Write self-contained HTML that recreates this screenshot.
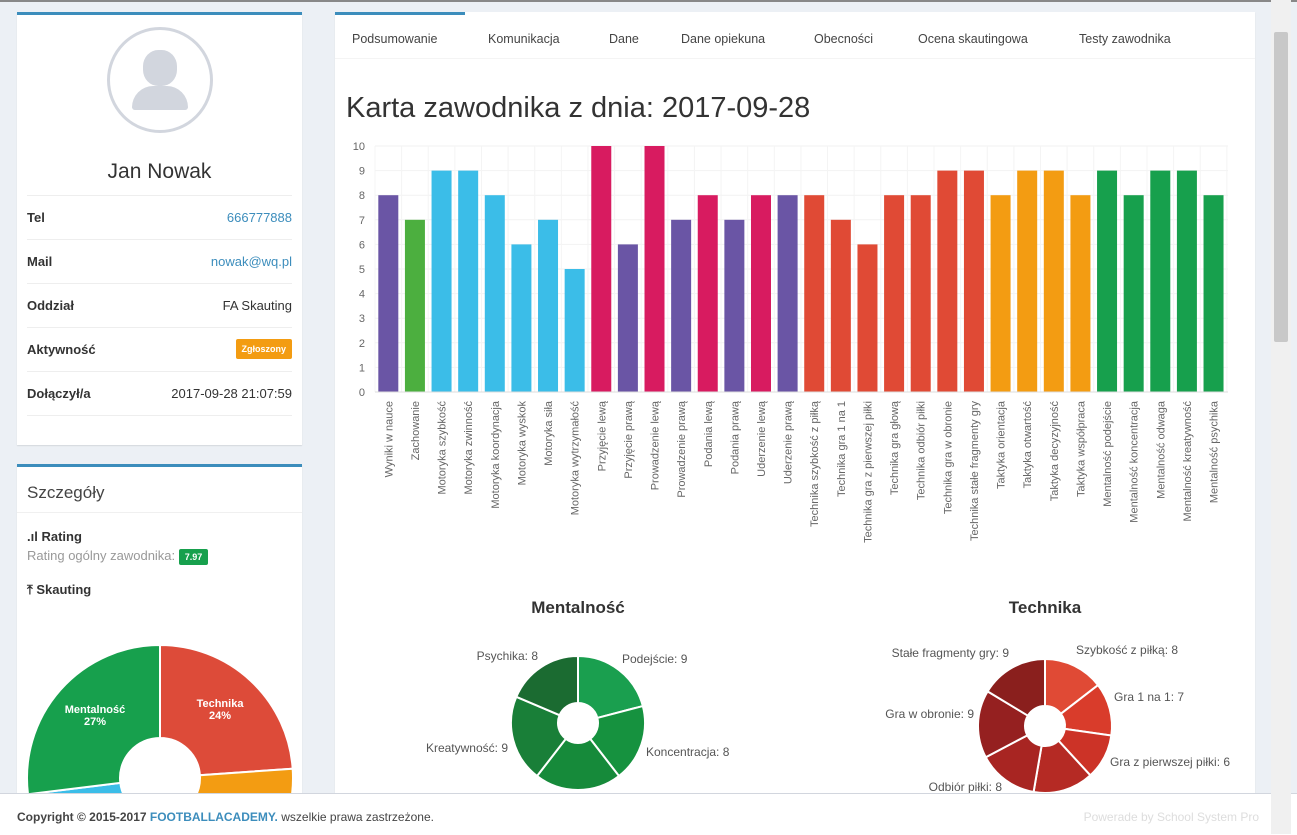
<!DOCTYPE html><html><head><meta charset="utf-8"><style>
body{margin:0;width:1297px;height:834px;overflow:hidden;background:#ecf0f5;font-family:"Liberation Sans",sans-serif;position:relative}
.box{position:absolute;background:#fff;border-top:3px solid #3c8dbc;box-shadow:0 1px 1px rgba(0,0,0,.1)}
.row{position:absolute;left:10px;right:10px;height:43px;border-top:1px solid #eee;font-size:13px;line-height:43px;color:#333}
.row b{float:left}.row span{float:right}
.a{position:absolute;font-size:12.5px;color:#444}
</style></head><body>
<div style="position:absolute;left:0;top:0;width:1297px;height:2px;background:#888"></div>
<div class="box" style="left:17px;top:12px;width:285px;height:430px">
 <div style="position:absolute;left:90px;top:12px;width:100px;height:100px;border:3px solid #d2d6de;border-radius:50%;overflow:hidden">
  <div style="position:absolute;left:33px;top:20px;width:34px;height:36px;border-radius:45%;background:#d2d6de"></div>
  <div style="position:absolute;left:22px;top:56px;width:56px;height:24px;border-radius:30px 30px 4px 4px;background:#d2d6de"></div></div>
 <div style="position:absolute;left:0;width:285px;top:145px;text-align:center;font-size:21px;color:#333">Jan Nowak</div>
 <div class="row" style="top:180px"><b>Tel</b><span style="color:#3c8dbc">666777888</span></div>
 <div class="row" style="top:224px"><b>Mail</b><span style="color:#3c8dbc">nowak@wq.pl</span></div>
 <div class="row" style="top:268px"><b>Oddział</b><span>FA Skauting</span></div>
 <div class="row" style="top:312px"><b>Aktywność</b><span style="display:block;margin-top:11px;background:#f39c12;color:#fff;font-size:9px;font-weight:bold;line-height:20px;padding:0 6px;border-radius:2px">Zgłoszony</span></div>
 <div class="row" style="top:356px;border-bottom:1px solid #eee"><b>Dołączył/a</b><span>2017-09-28 21:07:59</span></div>
</div>
<div class="box" style="left:17px;top:464px;width:285px;height:340px;overflow:hidden">
 <div style="position:absolute;left:10px;top:16px;font-size:17px;color:#444">Szczegóły</div>
 <div style="position:absolute;left:0;right:0;top:45px;border-top:1px solid #f0f0f0"></div>
 <div style="position:absolute;left:10px;top:62px;font-size:13px;font-weight:bold;color:#333">.ıl Rating</div>
 <div style="position:absolute;left:10px;top:81px;font-size:13px;color:#999">Rating ogólny zawodnika: <span style="background:#17a04d;color:#fff;font-size:9px;font-weight:bold;padding:3px 6px;border-radius:2px">7.97</span></div>
 <div style="position:absolute;left:10px;top:115px;font-size:13px;font-weight:bold;color:#333">⤒ Skauting</div>
 <svg id="pie" style="position:absolute;left:0;top:0" width="285" height="340"></svg>
</div>
<div class="box" style="left:335px;top:12px;width:920px;height:800px;border-top:none">
 <div style="position:absolute;left:0;top:0;width:130px;height:3px;background:#3c8dbc"></div>
 <div style="position:absolute;left:0;right:0;top:46px;border-top:1px solid #f4f4f4"></div>
 <div class="a" style="left:17px;top:20px">Podsumowanie</div>
 <div class="a" style="left:153px;top:20px">Komunikacja</div>
 <div class="a" style="left:274px;top:20px">Dane</div>
 <div class="a" style="left:346px;top:20px">Dane opiekuna</div>
 <div class="a" style="left:479px;top:20px">Obecności</div>
 <div class="a" style="left:583px;top:20px">Ocena skautingowa</div>
 <div class="a" style="left:744px;top:20px">Testy zawodnika</div>
 <div style="position:absolute;left:11px;top:80px;font-size:29px;color:#333">Karta zawodnika z dnia: 2017-09-28</div>
</div>
<svg id="ch" style="position:absolute;left:0;top:0" width="1297" height="834"></svg>
<div style="position:absolute;left:0;top:793px;width:1297px;height:41px;background:#fff;border-top:1px solid #d2d6de">
 <div style="position:absolute;left:17px;top:16px;font-size:12px;font-weight:bold;color:#444">Copyright © 2015-2017 <span style="color:#3c8dbc">FOOTBALLACADEMY.</span> <span style="font-weight:normal">wszelkie prawa zastrzeżone.</span></div>
 <div style="position:absolute;right:38px;top:16px;font-size:12px;color:#ddd">Powerade by School System Pro</div>
</div>
<div style="position:absolute;left:1271px;top:0;width:20px;height:834px;background:#f0f0f0"><div style="position:absolute;left:3px;top:32px;width:14px;height:310px;background:#c8c8c8;border-radius:2px"></div></div>
<script>
var NS="http://www.w3.org/2000/svg",ch=document.getElementById('ch');
function el(p,t,a,txt){var e=document.createElementNS(NS,t);for(var k in a)e.setAttribute(k,a[k]);if(txt!=null)e.textContent=txt;p.appendChild(e);return e}
var P='#6a55a5',G='#4caf3f',C='#3bbde8',M='#d81b60',R='#e04a35',O='#f39c12',E='#17a04d';
var d=[["Wyniki w nauce",8,P],["Zachowanie",7,G],["Motoryka szybkość",9,C],["Motoryka zwinność",9,C],["Motoryka koordynacja",8,C],["Motoryka wyskok",6,C],["Motoryka siła",7,C],["Motoryka wytrzymałość",5,C],["Przyjęcie lewą",10,M],["Przyjęcie prawą",6,P],["Prowadzenie lewą",10,M],["Prowadzenie prawą",7,P],["Podania lewą",8,M],["Podania prawą",7,P],["Uderzenie lewą",8,M],["Uderzenie prawą",8,P],["Technika szybkość z piłką",8,R],["Technika gra 1 na 1",7,R],["Technika gra z pierwszej piłki",6,R],["Technika gra głową",8,R],["Technika odbiór piłki",8,R],["Technika gra w obronie",9,R],["Technika stałe fragmenty gry",9,R],["Taktyka orientacja",8,O],["Taktyka otwartość",9,O],["Taktyka decyzyjność",9,O],["Taktyka współpraca",8,O],["Mentalność podejście",9,E],["Mentalność koncentracja",8,E],["Mentalność odwaga",9,E],["Mentalność kreatywność",9,E],["Mentalność psychika",8,E]];
var y0=392,u=24.6,x0=375,pw=26.62;
for(var i=0;i<=10;i++){var y=y0-i*u;el(ch,'line',{x1:x0,x2:1228,y1:y,y2:y,stroke:'#f2f2f2'});el(ch,'text',{x:365,y:y+4,'font-size':11,fill:'#666','text-anchor':'end'},i)}
for(var i=0;i<=32;i++){el(ch,'line',{x1:x0+i*pw,x2:x0+i*pw,y1:146,y2:y0,stroke:'#f4f4f4'})}
d.forEach(function(b,i){var cx=x0+pw*(i+.5);el(ch,'rect',{x:cx-10,y:y0-b[1]*u,width:20,height:b[1]*u,fill:b[2]});
el(ch,'text',{transform:'translate('+(cx+4)+',401) rotate(-90)','font-size':11,fill:'#666','text-anchor':'end'},b[0])});
el(ch,'line',{x1:x0,x2:1228,y1:y0,y2:y0,stroke:'#ddd'});
function arc(p,cx,cy,r1,r0,a0,a1,f,st){var s=Math.sin,c=Math.cos,l=(a1-a0)>Math.PI?1:0;
var dd='M'+(cx+r1*s(a0))+','+(cy-r1*c(a0))+'A'+r1+','+r1+' 0 '+l+' 1 '+(cx+r1*s(a1))+','+(cy-r1*c(a1))+'L'+(cx+r0*s(a1))+','+(cy-r0*c(a1))+'A'+r0+','+r0+' 0 '+l+' 0 '+(cx+r0*s(a0))+','+(cy-r0*c(a0))+'Z';
el(p,'path',{d:dd,fill:f,stroke:st||'#fff','stroke-width':2})}
function donut(cx,cy,vals,cols){var t=vals.reduce(function(a,b){return a+b}),a=0;vals.forEach(function(v,i){var b=a+v/t*2*Math.PI;arc(ch,cx,cy,67,20,a,b,cols[i]);a=b})}
donut(578,723,[9,8,9,9,8],['#1a9f4f','#16923f','#168a3a','#197f38','#1b6b31']);
donut(1045,726,[8,7,6,8,8,9,9],['#e04a35','#d93c2b','#cc3327','#b52a24','#a82522','#952020','#8a1f1d']);
function T(x,y,s,a,sz,w){el(ch,'text',{x:x,y:y,'font-size':sz||12,fill:w?'#333':'#555','font-weight':w?'bold':'normal','text-anchor':a||'start'},s)}
T(578,613,'Mentalność','middle',17,1);T(1045,613,'Technika','middle',17,1);
T(538,660,'Psychika: 8','end');T(622,663,'Podejście: 9');T(646,756,'Koncentracja: 8');T(508,752,'Kreatywność: 9','end');
T(1009,657,'Stałe fragmenty gry: 9','end');T(1076,654,'Szybkość z piłką: 8');T(1114,701,'Gra 1 na 1: 7');T(1110,766,'Gra z pierwszej piłki: 6');T(974,718,'Gra w obronie: 9','end');T(1002,791,'Odbiór piłki: 8','end');
var pie=document.getElementById('pie'),D=Math.PI/180;
arc(pie,143,311,133,40,0,86*D,'#dd4b39','#fff');arc(pie,143,311,133,40,86*D,120*D,'#f39c12','#fff');
arc(pie,143,311,133,40,240*D,263*D,'#3bbde8','#fff');arc(pie,143,311,133,40,263*D,360*D,'#17a04d','#fff');
el(pie,'text',{x:78,y:246,'font-size':11,fill:'#fff','font-weight':'bold','text-anchor':'middle'},'Mentalność');
el(pie,'text',{x:78,y:258,'font-size':11,fill:'#fff','font-weight':'bold','text-anchor':'middle'},'27%');
el(pie,'text',{x:203,y:240,'font-size':11,fill:'#fff','font-weight':'bold','text-anchor':'middle'},'Technika');
el(pie,'text',{x:203,y:252,'font-size':11,fill:'#fff','font-weight':'bold','text-anchor':'middle'},'24%');
</script></body></html>
